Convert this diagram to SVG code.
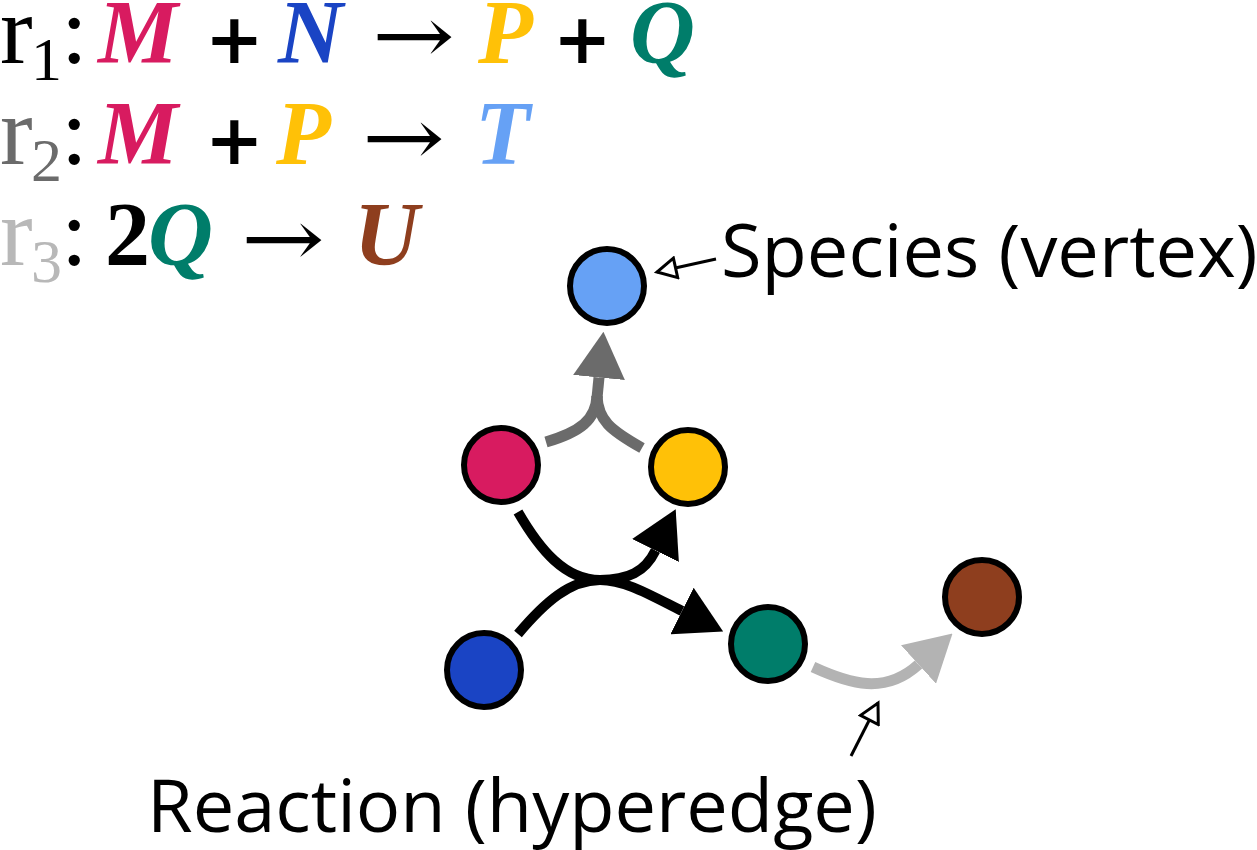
<svg xmlns="http://www.w3.org/2000/svg" width="1257" height="850" viewBox="0 0 1257 850">
<style>
.eq{font-family:"Liberation Serif","Times New Roman",serif;}
.sp{font-weight:bold;font-style:italic;font-size:90px;}
.r{font-size:98px;}
.sub{font-size:62px;}
.col{font-size:96px;fill:#000;}
.num{font-weight:bold;font-size:90px;fill:#000;}
.op{font-family:"DejaVu Sans","Liberation Sans",sans-serif;font-weight:bold;font-size:70px;fill:#000;}
.arr{font-family:"DejaVu Serif","Liberation Serif",serif;font-size:80px;fill:#000;}
.lbl{font-family:"Open Sans","Noto Sans",sans-serif;font-size:74px;fill:#000;}
.node{stroke:#000;stroke-width:6;}
.c1{fill:none;stroke:#000;stroke-width:10;}
.c2{fill:none;stroke:#6b6b6b;stroke-width:11;}
.c3{fill:none;stroke:#b3b3b3;stroke-width:11;}
.ptr{fill:none;stroke:#000;stroke-width:3;}
</style>
<defs>
<marker id="h1" markerUnits="userSpaceOnUse" viewBox="0 0 46 52" refX="0" refY="26" markerWidth="46" markerHeight="52" orient="auto"><path d="M0,0 L46,26 L0,52 Z" fill="#000"/></marker>
<marker id="h2" markerUnits="userSpaceOnUse" viewBox="0 0 46 52" refX="0" refY="26" markerWidth="46" markerHeight="52" orient="auto"><path d="M0,0 L46,26 L0,52 Z" fill="#6b6b6b"/></marker>
<marker id="h3" markerUnits="userSpaceOnUse" viewBox="0 0 46 52" refX="0" refY="26" markerWidth="46" markerHeight="52" orient="auto"><path d="M0,0 L46,26 L0,52 Z" fill="#b3b3b3"/></marker>
<marker id="open" markerUnits="userSpaceOnUse" viewBox="0 0 24 24" refX="21" refY="12" markerWidth="24" markerHeight="24" orient="auto"><path d="M2,2 L21,12 L2,22 Z" fill="#fff" stroke="#000" stroke-width="3" stroke-linejoin="miter"/></marker>
</defs>

<g id="equations" class="eq">
<text y="63"><tspan class="r" x="0" fill="#000">r</tspan><tspan class="sub" x="31" y="80" fill="#000">1</tspan><tspan class="col" x="61" y="63">:</tspan><tspan class="sp" x="98" fill="#d81b60">M</tspan><tspan class="op" x="205">+</tspan><tspan class="sp" x="278" fill="#1a44c4">N</tspan><tspan class="sp" x="478" fill="#ffc107">P</tspan><tspan class="op" x="553">+</tspan><tspan class="sp" x="630" fill="#007d6a">Q</tspan></text>
<text class="arr" x="372" y="63" textLength="83" lengthAdjust="spacingAndGlyphs">→</text>
<text y="164"><tspan class="r" x="0" fill="#6b6b6b">r</tspan><tspan class="sub" x="31" y="181" fill="#6b6b6b">2</tspan><tspan class="col" x="61" y="164">:</tspan><tspan class="sp" x="98" fill="#d81b60">M</tspan><tspan class="op" x="205">+</tspan><tspan class="sp" x="276" fill="#ffc107">P</tspan><tspan class="sp" x="475" fill="#66a1f5">T</tspan></text>
<text class="arr" x="362" y="165" textLength="83" lengthAdjust="spacingAndGlyphs">→</text>
<text y="265"><tspan class="r" x="0" fill="#b8b8b8">r</tspan><tspan class="sub" x="31" y="282" fill="#b8b8b8">3</tspan><tspan class="col" x="61" y="265">:</tspan><tspan class="num" x="105">2</tspan><tspan class="sp" x="148" fill="#007d6a">Q</tspan><tspan class="sp" x="354" fill="#8e3e1e">U</tspan></text>
<text class="arr" x="241" y="266" textLength="84" lengthAdjust="spacingAndGlyphs">→</text>
</g>

<g id="connectors">
<path class="c1" d="M518,512 C540,550 565,580 600,580 C628,580 645,572 655.5,550.5" marker-end="url(#h1)"/>
<path class="c1" d="M518,634 C545,602 570,580 600,580 C625,580 650,595 682,611" marker-end="url(#h1)"/>
<path class="c2" d="M546,442 C580,432 596,420 597,396"/>
<path class="c2" d="M642,448 C610,430 598,420 597,396"/>
<path class="c2" d="M597,398 L599,377.5" marker-end="url(#h2)"/>
<path class="c3" d="M813,667 C850,684 885,695 918.5,664.5" marker-end="url(#h3)"/>
<path class="ptr" d="M716,259 L657,272" marker-end="url(#open)"/>
<path class="ptr" d="M851,756 L878,703" marker-end="url(#open)"/>
</g>

<g id="node-T"><circle class="node" cx="607" cy="286" r="37" fill="#66a1f5"/></g>
<g id="node-M"><circle class="node" cx="501" cy="465" r="37" fill="#d81b60"/></g>
<g id="node-P"><circle class="node" cx="688" cy="467" r="37" fill="#ffc107"/></g>
<g id="node-N"><circle class="node" cx="484" cy="670" r="37" fill="#1a44c4"/></g>
<g id="node-Q"><circle class="node" cx="768" cy="644" r="37" fill="#007d6a"/></g>
<g id="node-U"><circle class="node" cx="982" cy="597" r="37" fill="#8e3e1e"/></g>

<g id="label-species"><text class="lbl" x="721" y="277">Species (vertex)</text></g>
<g id="label-reaction"><text class="lbl" x="147" y="832">Reaction (hyperedge)</text></g>
</svg>
